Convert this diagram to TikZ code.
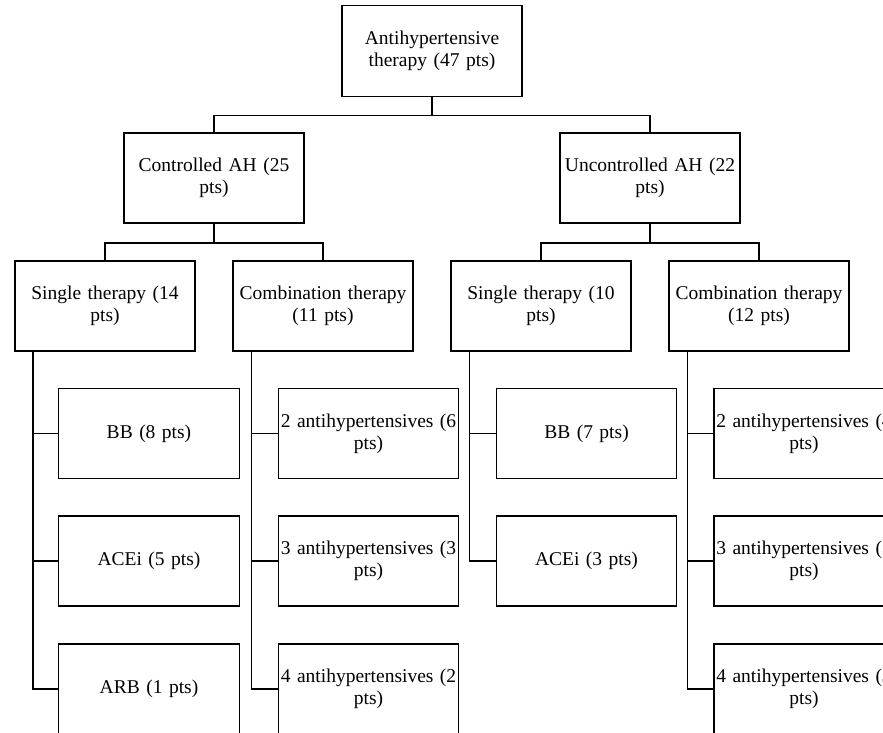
\documentclass[tikz,border=0pt]{standalone}
\usepackage{fontspec}
\setmainfont{Liberation Serif}
\newcommand{\lineofbox}[1]{\mbox{#1}}
\begin{document}
\begin{tikzpicture}[x=1pt,y=-1pt,
  box/.style={draw, line width=1.9pt, rectangle, inner xsep=2pt, inner ysep=0pt,
    text width=176pt, minimum height=90pt, align=center,
    font=\fontsize{19.5}{22}\selectfont},
  link/.style={line width=1.9pt}]
\useasboundingbox (0,0) rectangle (883,732);
\clip (0,0) rectangle (883,732);
% level 0
\node[box, minimum height=91pt] (root) at (432,51) {\lineofbox{Antihypertensive}\\\lineofbox{therapy (47 pts)}};
% level 1
\node[box] (ctrl) at (214,178) {\lineofbox{Controlled AH (25}\\\lineofbox{pts)}};
\node[box] (unc) at (650,178) {\lineofbox{Uncontrolled AH (22}\\\lineofbox{pts)}};
% level 2
\node[box] (s14) at (105,306) {\lineofbox{Single therapy (14}\\\lineofbox{pts)}};
\node[box] (c11) at (323,306) {\lineofbox{Combination therapy}\\\lineofbox{(11 pts)}};
\node[box] (s10) at (541,306) {\lineofbox{Single therapy (10}\\\lineofbox{pts)}};
\node[box] (c12) at (759,306) {\lineofbox{Combination therapy}\\\lineofbox{(12 pts)}};
% leaves
\node[box, text width=177pt] (bb8) at (149,433.5) {\lineofbox{BB (8 pts)}};
\node[box, text width=177pt] (ace5) at (149,561) {\lineofbox{ACEi (5 pts)}};
\node[box, text width=177pt] (arb1) at (149,689) {\lineofbox{ARB (1 pts)}};
\node[box] (a2l) at (368.5,433.5) {\lineofbox{2 antihypertensives (6}\\\lineofbox{pts)}};
\node[box] (a3l) at (368.5,561) {\lineofbox{3 antihypertensives (3}\\\lineofbox{pts)}};
\node[box] (a4l) at (368.5,689) {\lineofbox{4 antihypertensives (2}\\\lineofbox{pts)}};
\node[box] (bb7) at (586.5,433.5) {\lineofbox{BB (7 pts)}};
\node[box] (ace3) at (586.5,561) {\lineofbox{ACEi (3 pts)}};
\node[box] (a2r) at (804,433.5) {\lineofbox{2 antihypertensives (4}\\\lineofbox{pts)}};
\node[box] (a3r) at (804,561) {\lineofbox{3 antihypertensives (5}\\\lineofbox{pts)}};
\node[box] (a4r) at (804,689) {\lineofbox{4 antihypertensives (3}\\\lineofbox{pts)}};
% connectors level 0 -> 1
\draw[link] (root.south) -- ++(0,18) -| (ctrl.north);
\draw[link] (root.south) -- ++(0,18) -| (unc.north);
% level 1 -> 2
\draw[link] (ctrl.south) -- ++(0,19) -| (s14.north);
\draw[link] (ctrl.south) -- ++(0,19) -| (c11.north);
\draw[link] (unc.south) -- ++(0,19) -| (s10.north);
\draw[link] (unc.south) -- ++(0,19) -| (c12.north);
% level 2 -> leaves
\coordinate (t1) at (33,351);
\coordinate (t2) at (251.5,351);
\coordinate (t3) at (469.5,351);
\coordinate (t4) at (687.5,351);
\draw[link] (t1) |- (arb1.west);
\draw[link] (t1) |- (bb8.west);
\draw[link] (t1) |- (ace5.west);
\draw[link] (t2) |- (a4l.west);
\draw[link] (t2) |- (a2l.west);
\draw[link] (t2) |- (a3l.west);
\draw[link] (t3) |- (ace3.west);
\draw[link] (t3) |- (bb7.west);
\draw[link] (t4) |- (a4r.west);
\draw[link] (t4) |- (a2r.west);
\draw[link] (t4) |- (a3r.west);
\end{tikzpicture}
\end{document}
